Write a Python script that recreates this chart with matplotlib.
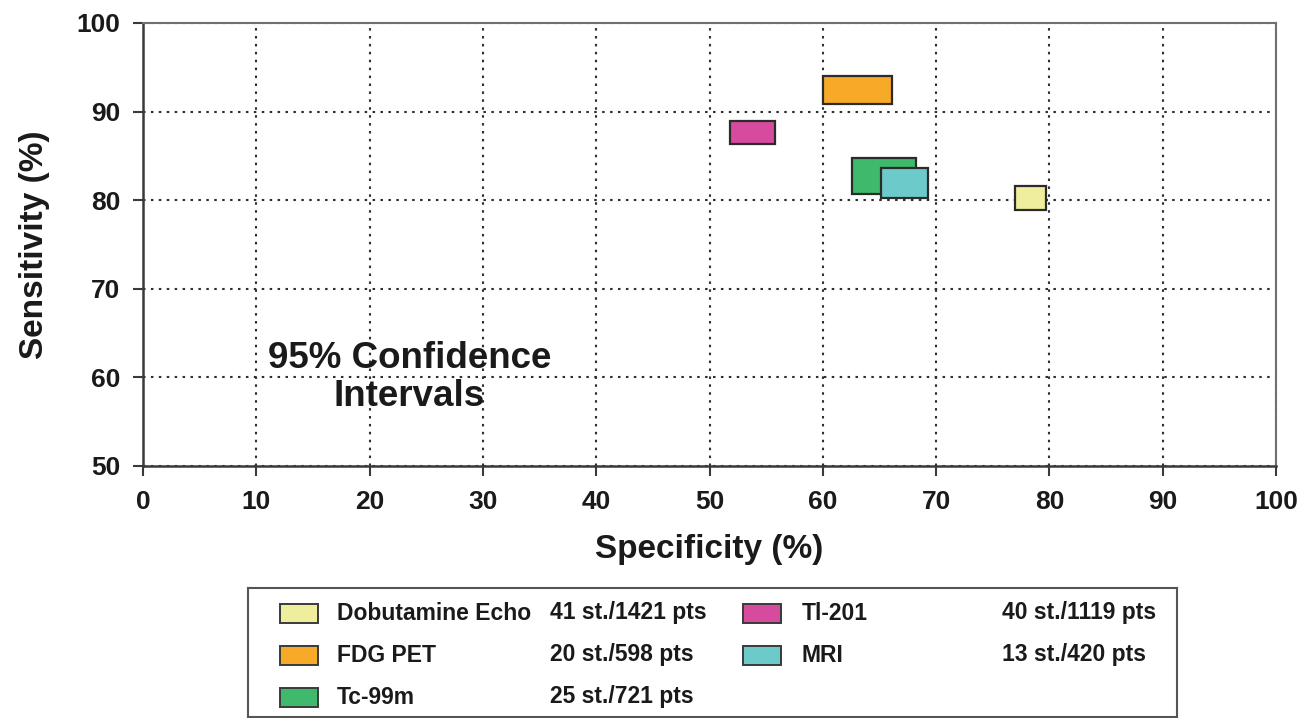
import matplotlib.pyplot as plt
from matplotlib.patches import Rectangle

# 95% confidence intervals per imaging method (specificity x sensitivity, %)
methods = ['Dobutamine Echo', 'FDG PET', 'Tc-99m', 'Tl-201', 'MRI']
studies = ['41 st./1421 pts', '20 st./598 pts', '25 st./721 pts', '40 st./1119 pts', '13 st./420 pts']
spec_lo = [77.0, 60.0, 62.6, 51.8, 65.1]
spec_hi = [79.7, 66.1, 68.2, 55.8, 69.3]
sens_lo = [78.9, 90.8, 80.7, 86.3, 80.3]
sens_hi = [81.6, 94.0, 84.8, 88.9, 83.6]
colors = ['#eeee9c', '#f7a928', '#3fb96b', '#d64b9e', '#6ccaca']

x_ticks = list(range(0, 101, 10))
y_ticks = list(range(50, 101, 10))

plt.rcParams['font.family'] = ['Liberation Sans', 'DejaVu Sans']
plt.rcParams['font.weight'] = 'bold'

fig = plt.figure(figsize=(13.07, 7.18), dpi=100)
ax = fig.add_axes([0.1094, 0.351, 0.8669, 0.617])

for i in range(len(methods)):
    box = Rectangle((spec_lo[i], sens_lo[i]), spec_hi[i] - spec_lo[i], sens_hi[i] - sens_lo[i],
                    facecolor=colors[i], edgecolor='#2b2b2b', linewidth=1.6, zorder=3)
    ax.add_patch(box)

ax.set_xlim(0, 100)
ax.set_ylim(50, 100)
ax.set_xticks(x_ticks)
ax.set_yticks(y_ticks)
ax.grid(True, color='#2e2e2e', linestyle=(0, (1.2, 2.6)), linewidth=1.5, zorder=1)
ax.set_axisbelow(True)

for side in ['left', 'bottom']:
    ax.spines[side].set_color('#3a3a3a')
    ax.spines[side].set_linewidth(1.8)
for side in ['top', 'right']:
    ax.spines[side].set_color('#707070')
    ax.spines[side].set_linewidth(1.5)

ax.tick_params(axis='both', direction='out', length=7.5, width=1.5, color='#3a3a3a',
               labelsize=19, labelcolor='#1a1a1a')
ax.tick_params(axis='y', pad=9)
ax.tick_params(axis='x', pad=10)

ax.set_xlabel('Specificity (%)', fontsize=24, fontweight='bold', color='#1a1a1a', labelpad=14)
ax.set_ylabel('Sensitivity (%)', fontsize=24, fontweight='bold', color='#1a1a1a', labelpad=19)

ax.text(23.5, 60.0, '95% Confidence\nIntervals', fontsize=26.5, fontweight='bold',
        color='#1a1a1a', ha='center', va='center', linespacing=1.12, zorder=4)

# legend panel: swatch, method name and study count in two column groups
lax = fig.add_axes([248 / 1307, 1 / 718, 929 / 1307, 129 / 718])
lax.set_xlim(248, 1177)
lax.set_ylim(717, 588)
lax.set_xticks([])
lax.set_yticks([])
for s in lax.spines.values():
    s.set_color('#555555')
    s.set_linewidth(1.5)

row_y = [613, 655, 697]
col_x = [(280, 337, 550), (743, 802, 1002)]
for i in range(len(methods)):
    sx, tx, cx = col_x[i // 3]
    y = row_y[i % 3]
    lax.add_patch(Rectangle((sx, y - 9.5), 38, 19, facecolor=colors[i],
                            edgecolor='#3a3a3a', linewidth=1.4))
    lax.text(tx, y, methods[i], fontsize=16.5, fontweight='bold', color='#1a1a1a', va='center')
    lax.text(cx, y, studies[i], fontsize=16.5, fontweight='bold', color='#1a1a1a', va='center')

fig.savefig('out.png', dpi=100)
